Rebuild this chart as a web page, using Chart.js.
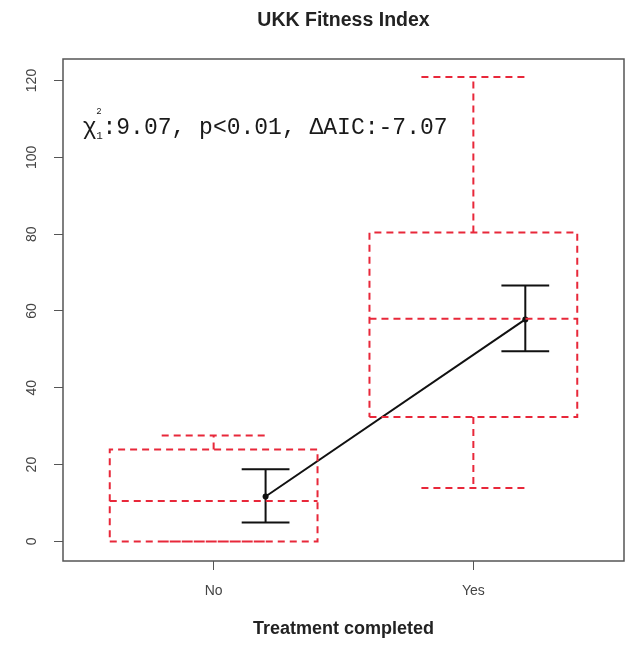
<!DOCTYPE html>
<html>
<head>
<meta charset="utf-8">
<title>UKK Fitness Index</title>
<script src="https://cdn.jsdelivr.net/npm/chart.js@4.4.1/dist/chart.umd.min.js"></script>
<style>
  html, body { margin: 0; padding: 0; background: #fff; }
</style>
</head>
<body>
<canvas id="chart" width="635" height="648"></canvas>
<script>
const categories = ["No", "Yes"];

// boxplot summaries per group
const whiskerLow = [0, 13.9];
const quartile1 = [0, 32.4];
const medians = [10.5, 58.0];
const quartile3 = [23.9, 80.4];
const whiskerHigh = [27.6, 120.9];

// group means with error bars
const means = [11.7, 57.8];
const errLow = [4.9, 49.5];
const errHigh = [18.8, 66.6];

const yTicks = [0, 20, 40, 60, 80, 100, 120];

// model comparison note, placed in data units
const statSymbol = "χ";
const statSup = "2";
const statSub = "1";
const statBody = ":9.07, p<0.01, ΔAIC:-7.07";
const statAt = [0.5, 106];

const BOX_HALF = 0.4;
const STAPLE_HALF = 0.2;
const MEAN_SHIFT = 0.2;
const CAP_HALF = 0.092;
const RED = "#e8283a";

function gap(x) {
  return { x: x, y: null };
}

function boxPoints(i) {
  const c = i + 1;
  const l = c - BOX_HALF;
  const r = c + BOX_HALF;
  return [
    { x: l, y: quartile1[i] }, { x: r, y: quartile1[i] },
    { x: r, y: quartile3[i] }, { x: l, y: quartile3[i] },
    { x: l, y: quartile1[i] }, gap(c),
    { x: l, y: medians[i] }, { x: r, y: medians[i] }, gap(c),
    { x: c, y: quartile3[i] }, { x: c, y: whiskerHigh[i] }, gap(c),
    { x: c - STAPLE_HALF, y: whiskerHigh[i] }, { x: c + STAPLE_HALF, y: whiskerHigh[i] }, gap(c),
    { x: c, y: quartile1[i] }, { x: c, y: whiskerLow[i] }, gap(c),
    { x: c - STAPLE_HALF, y: whiskerLow[i] }, { x: c + STAPLE_HALF, y: whiskerLow[i] },
  ];
}

function errorPoints() {
  const pts = [];
  means.forEach((m, i) => {
    const c = i + 1 + MEAN_SHIFT;
    pts.push({ x: c, y: errLow[i] }, { x: c, y: errHigh[i] }, gap(c));
    pts.push({ x: c - CAP_HALF, y: errLow[i] }, { x: c + CAP_HALF, y: errLow[i] }, gap(c));
    pts.push({ x: c - CAP_HALF, y: errHigh[i] }, { x: c + CAP_HALF, y: errHigh[i] }, gap(c));
  });
  return pts;
}

const datasets = categories.map((name, i) => ({
  label: name,
  data: boxPoints(i),
  borderColor: RED,
  borderWidth: 2,
  borderDash: [7, 5],
  pointRadius: 0,
  spanGaps: false,
  fill: false,
}));

datasets.push({
  label: "error",
  data: errorPoints(),
  borderColor: "#111",
  borderWidth: 2,
  pointRadius: 0,
  spanGaps: false,
  fill: false,
});

datasets.push({
  label: "mean",
  data: means.map((m, i) => ({ x: i + 1 + MEAN_SHIFT, y: m })),
  borderColor: "#111",
  borderWidth: 2,
  pointRadius: 3,
  pointBackgroundColor: "#111",
  pointBorderWidth: 0,
  fill: false,
});

// frame, rotated y labels and the stats note (R style)
const rStyle = {
  id: "rStyle",
  afterDraw(chart) {
    const { ctx, chartArea: a, scales } = chart;
    const x = scales.x;
    const y = scales.y;

    ctx.save();
    ctx.strokeStyle = "#555";
    ctx.lineWidth = 1.5;
    ctx.strokeRect(a.left, a.top, a.right - a.left, a.bottom - a.top);

    ctx.fillStyle = "#444";
    ctx.font = '14px "Liberation Sans", Arial, sans-serif';
    ctx.textAlign = "center";
    ctx.textBaseline = "middle";
    yTicks.forEach((v) => {
      ctx.save();
      ctx.translate(a.left - 31, y.getPixelForValue(v));
      ctx.rotate(-Math.PI / 2);
      ctx.fillText(String(v), 0, 0);
      ctx.restore();
    });

    const sx = x.getPixelForValue(statAt[0]);
    const sy = y.getPixelForValue(statAt[1]);
    ctx.fillStyle = "#1a1a1a";
    ctx.textAlign = "left";
    ctx.textBaseline = "alphabetic";
    ctx.font = '23px "Liberation Mono", "Courier New", monospace';
    ctx.fillText(statSymbol, sx - 1, sy);
    ctx.fillText(statBody, sx + 18.7, sy);
    ctx.font = '9px "Liberation Mono", monospace';
    ctx.fillText(statSup, sx + 12.5, sy - 20);
    ctx.font = '11px "Liberation Mono", monospace';
    ctx.fillText(statSub, sx + 12.5, sy + 4.5);
    ctx.restore();
  },
};

Chart.defaults.font.family = '"Liberation Sans", Arial, sans-serif';

new Chart(document.getElementById("chart"), {
  type: "line",
  data: { datasets: datasets },
  options: {
    responsive: false,
    animation: false,
    devicePixelRatio: 1,
    layout: { padding: { left: 0, right: 11, top: 0, bottom: 0 } },
    plugins: {
      legend: { display: false },
      tooltip: { enabled: false },
      title: {
        display: true,
        text: "UKK Fitness Index",
        fullSize: false,
        color: "#222",
        font: { size: 19.5, weight: "bold" },
        padding: { top: 9, bottom: 26.6 },
      },
    },
    scales: {
      x: {
        type: "linear",
        min: 0.42,
        max: 2.58,
        afterBuildTicks: (s) => {
          s.ticks = categories.map((c, i) => ({ value: i + 1 }));
        },
        afterFit: (s) => {
          s.height = 87;
        },
        grid: { drawOnChartArea: false, tickLength: 9, color: "#555" },
        border: { display: false },
        ticks: {
          padding: 13,
          color: "#444",
          font: { size: 14 },
          callback: (v) => categories[v - 1],
        },
        title: {
          display: true,
          text: "Treatment completed",
          color: "#222",
          font: { size: 18, weight: "bold" },
          padding: { top: 0, bottom: 8 },
        },
      },
      y: {
        type: "linear",
        min: -5.1,
        max: 125.6,
        afterBuildTicks: (s) => {
          s.ticks = yTicks.map((v) => ({ value: v }));
        },
        afterFit: (s) => {
          s.width = 63;
        },
        grid: { drawOnChartArea: false, tickLength: 9, color: "#555" },
        border: { display: false },
        ticks: { display: false },
      },
    },
  },
  plugins: [rStyle],
});
</script>
</body>
</html>
